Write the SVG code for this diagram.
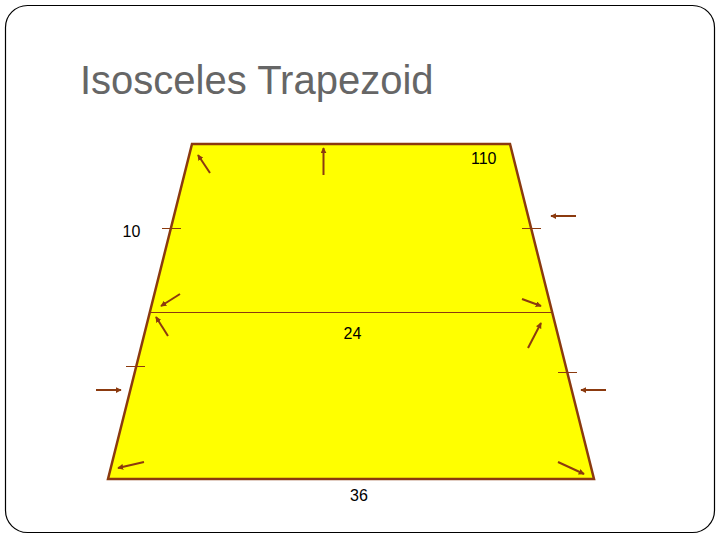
<svg xmlns="http://www.w3.org/2000/svg" width="720" height="540" viewBox="0 0 720 540">
<style>
.lbl{font-family:"Liberation Sans",Arial,sans-serif;font-size:16px;fill:#000}
.title{font-family:"Liberation Sans",Arial,sans-serif;font-size:40px;fill:#666666}
.arr{stroke:#8B3A0F;stroke-width:2;fill:none;marker-end:url(#ah)}
.tick{stroke:#8B3A0F;stroke-width:1;fill:none}
</style>
<defs>
<marker id="ah" viewBox="0 0 8 8" refX="7" refY="4" markerWidth="6" markerHeight="6" markerUnits="userSpaceOnUse" orient="auto">
<path d="M0,0 L8,4 L0,8 z" fill="#8B3A0F"/>
</marker>
</defs>
<rect x="5.5" y="5.5" width="709" height="527" rx="22" ry="22" fill="#ffffff" stroke="#000" stroke-width="1.2"/>
<text class="title" x="80" y="94">Isosceles Trapezoid</text>
<g id="trapezoid">
<polygon points="192,144 510,144 594,479 108,479" fill="#FFFF00" stroke="#8B3A0F" stroke-width="2.5" stroke-linejoin="miter"/>
<line x1="151" y1="312.5" x2="551" y2="312.5" stroke="#8B3A0F" stroke-width="1"/>
</g>
<g id="ticks">
<line class="tick" x1="162" y1="228.5" x2="181" y2="228.5"/>
<line class="tick" x1="522" y1="228.5" x2="541" y2="228.5"/>
<line class="tick" x1="126" y1="366.5" x2="145" y2="366.5"/>
<line class="tick" x1="558" y1="372.5" x2="577" y2="372.5"/>
</g>
<g id="connectors">
<line class="arr" x1="210" y1="173" x2="198" y2="155"/>
<line class="arr" x1="323.5" y1="175" x2="323.5" y2="148"/>
<line class="arr" x1="576" y1="216" x2="551" y2="216"/>
<line class="arr" x1="180" y1="294" x2="161" y2="306"/>
<line class="arr" x1="522" y1="299" x2="541" y2="306"/>
<line class="arr" x1="168" y1="336" x2="156" y2="317"/>
<line class="arr" x1="528" y1="348" x2="541" y2="323"/>
<line class="arr" x1="96" y1="390" x2="121" y2="390"/>
<line class="arr" x1="606" y1="390" x2="581" y2="390"/>
<line class="arr" x1="144" y1="462" x2="118" y2="468"/>
<line class="arr" x1="558" y1="462" x2="584" y2="474"/>
</g>
<g id="labels">
<text class="lbl" x="471" y="164">110</text>
<text class="lbl" x="122.5" y="237">10</text>
<text class="lbl" x="343.5" y="339">24</text>
<text class="lbl" x="350" y="501">36</text>
</g>
</svg>
